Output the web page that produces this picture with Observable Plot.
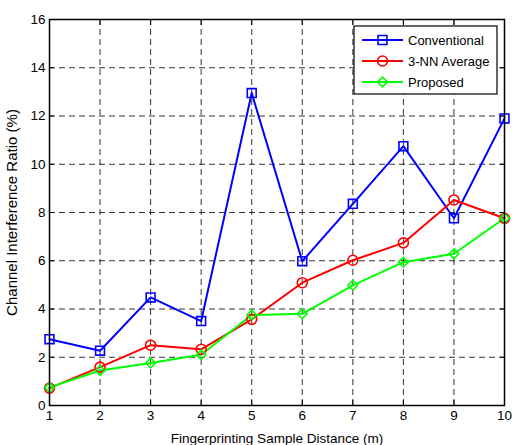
<!DOCTYPE html>
<html><head><meta charset="utf-8">
<script src="https://cdn.jsdelivr.net/npm/d3@7"></script>
<script src="https://cdn.jsdelivr.net/npm/@observablehq/plot@0.6"></script>
<style>
body{margin:0;background:#fff;}
#chart svg{font-family:"Liberation Sans",Arial,sans-serif;}
</style>
</head><body><div id="chart"></div>
<script>
const distances = [1,2,3,4,5,6,7,8,9,10];
const conventional = [2.75,2.27,4.48,3.5,12.95,5.98,8.36,10.75,7.76,11.9];
const knnAverage = [0.72,1.59,2.5,2.33,3.57,5.09,6.02,6.74,8.52,7.76];
const proposed = [0.75,1.45,1.76,2.1,3.75,3.8,4.98,5.94,6.29,7.76];
const seriesNames = ["Conventional","3-NN Average","Proposed"];
const seriesColors = ["#0000ff","#ff0000","#00ff00"];
const seriesSymbols = ["square","circle","diamond2"];
const yTicks = [0,2,4,6,8,10,12,14,16];

const seriesValues = [conventional, knnAverage, proposed];
const rows = [];
seriesNames.forEach((s,i)=>distances.forEach((d,j)=>rows.push({series:s,d,v:seriesValues[i][j]})));

const W=512,H=445;
const plot = Plot.plot({
  width:W,height:H,
  marginLeft:49,marginRight:8,marginTop:19,marginBottom:40,
  style:{fontSize:"13px",fontFamily:"Liberation Sans, Arial, sans-serif",background:"#fff",color:"#000"},
  x:{domain:[1,10],ticks:distances},
  y:{domain:[0,16],ticks:yTicks},
  color:{domain:seriesNames,range:seriesColors},
  symbol:{domain:seriesNames,range:seriesSymbols},
  marks:[
    Plot.gridX(distances,{stroke:"#000",strokeOpacity:0.8,strokeDasharray:"6,4"}),
    Plot.gridY(yTicks,{stroke:"#000",strokeOpacity:0.8,strokeDasharray:"6,4"}),
    Plot.axisX({ticks:distances,tickSize:-5,tickPadding:10,fontSize:13.5,label:null}),
    Plot.axisX({ticks:[],label:"Fingerprinting Sample Distance (m)",labelAnchor:"center",labelArrow:"none",labelOffset:37,fontSize:13.5}),
    Plot.axisX({anchor:"top",ticks:distances,tickSize:-5,tickFormat:()=>"",label:null}),
    Plot.axisY({ticks:yTicks,tickSize:-5,tickPadding:9,fontSize:13.5,label:null}),
    Plot.axisY({ticks:[],label:"Channel Interference Ratio (%)",labelAnchor:"center",labelArrow:"none",labelOffset:43,fontSize:15}),
    Plot.axisY({anchor:"right",ticks:yTicks,tickSize:-5,tickFormat:()=>"",label:null}),
    Plot.line(rows,{x:"d",y:"v",z:"series",stroke:"series",strokeWidth:2}),
    Plot.dot(rows.filter(r=>r.series!=="Proposed"),{x:"d",y:"v",stroke:"series",symbol:"series",r:5,strokeWidth:1.6,fill:"none"}),
    Plot.dot(rows.filter(r=>r.series==="Proposed"),{x:"d",y:"v",stroke:"series",symbol:"series",r:4.4,strokeWidth:1.6,fill:"none"}),
    Plot.frame({stroke:"#000",strokeWidth:1.5})
  ]
});
document.getElementById("chart").appendChild(plot);

// legend inside the plot (top right)
const svg = d3.select(plot);
const lg = svg.append("g").attr("transform","translate(354,26)").attr("text-anchor","start");
lg.append("rect").attr("width",143).attr("height",68).attr("fill","#fff").attr("stroke","#000").attr("stroke-width",1.2);
const symMap = {square:[d3.symbolSquare,Math.PI*25],circle:[d3.symbolCircle,Math.PI*25],diamond2:[d3.symbolDiamond2,Math.PI*4.4*4.4]};
seriesNames.forEach((s,i)=>{
  const y = 14 + i*21;
  const g = lg.append("g").attr("transform",`translate(0,${y})`);
  g.append("line").attr("x1",8).attr("x2",49).attr("stroke",seriesColors[i]).attr("stroke-width",2);
  const [sym,size] = symMap[seriesSymbols[i]];
  g.append("path").attr("transform","translate(28.5,0)").attr("d",d3.symbol(sym,size)())
    .attr("fill","none").attr("stroke",seriesColors[i]).attr("stroke-width",1.6);
  g.append("text").attr("x",54).attr("dy","0.35em").attr("text-anchor","start").attr("font-size",13).attr("fill","#000").text(s);
});
</script></body></html>
